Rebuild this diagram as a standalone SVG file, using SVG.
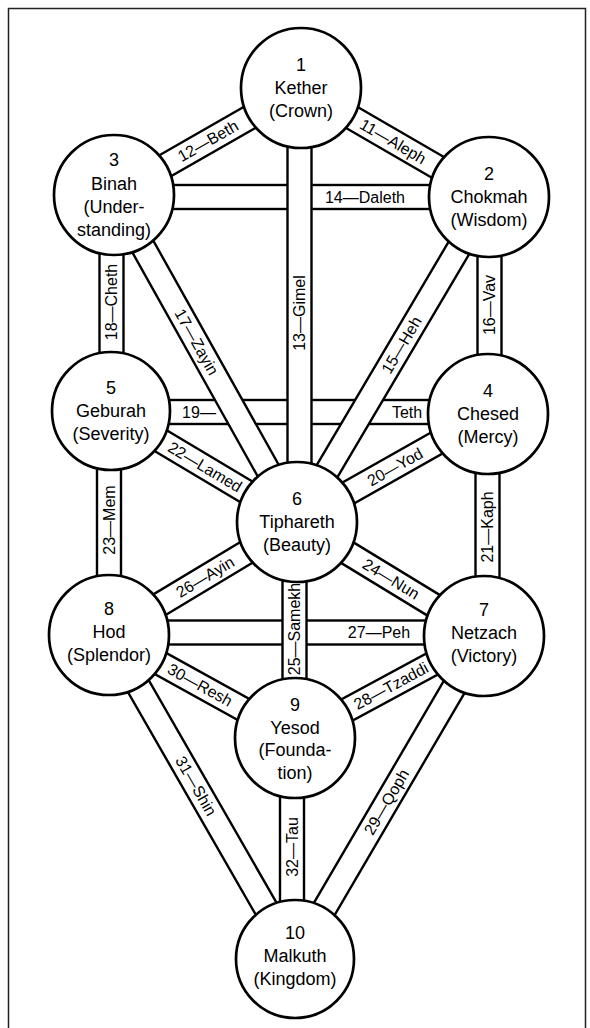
<svg xmlns="http://www.w3.org/2000/svg" width="590" height="1028" viewBox="0 0 590 1028">
<style>
.frame{fill:none;stroke:#222;stroke-width:1.5}
.band{fill:#fff;stroke:#000;stroke-width:2.4}
.node circle{fill:#fff;stroke:#000;stroke-width:2.7}
.nt{font-family:"Liberation Sans",Arial,sans-serif;font-size:18px;text-anchor:middle;fill:#000}
.pl{font-family:"Liberation Sans",Arial,sans-serif;font-size:16px;text-anchor:middle;dominant-baseline:central;fill:#000}
</style>
<rect width="590" height="1028" fill="#fff"/>
<path class="frame" d="M8.5,1028 V8.5 H585.5 V1028"/>
<g id="connectors">
  <g id="p14"><rect class="band" x="114" y="185" width="375" height="24"/><text class="pl" x="365" y="197">14—Daleth</text></g>
  <g id="p19"><rect class="band" x="111" y="400" width="377" height="24"/><text class="pl" x="199" y="412">19—</text><text class="pl" x="407" y="412">Teth</text></g>
  <g id="p27"><rect class="band" x="109" y="620.5" width="375" height="24"/><text class="pl" x="379" y="632.5">27—Peh</text></g>
  <g id="p13"><rect class="band" x="287.5" y="88" width="24" height="434"/><text class="pl" transform="translate(299.5,313) rotate(-90)">13—Gimel</text></g>
  <g id="p25"><rect class="band" x="282.5" y="522" width="24" height="216"/><text class="pl" transform="translate(294.5,629) rotate(-90)">25—Samekh</text></g>
  <g id="p11"><rect class="band" x="0" y="-12" width="217.3" height="24" transform="translate(301,88) rotate(30.1)"/><text class="pl" transform="translate(393,141.4) rotate(30.1)">11—Aleph</text></g>
  <g id="p12"><rect class="band" x="0" y="-12" width="215.4" height="24" transform="translate(301,88) rotate(150.2)"/><text class="pl" transform="translate(208,141) rotate(-29.8)">12—Beth</text></g>
  <g id="p15"><rect class="band" x="0" y="-12" width="377.5" height="24" transform="translate(489,197) rotate(120.57)"/><text class="pl" transform="translate(401.6,345) rotate(-59.43)">15—Heh</text></g>
  <g id="p16"><rect class="band" x="477.5" y="197" width="24" height="217"/><text class="pl" transform="translate(489.5,305) rotate(-90)">16—Vav</text></g>
  <g id="p17"><rect class="band" x="0" y="-12" width="374.7" height="24" transform="translate(114,195) rotate(60.77)"/><text class="pl" transform="translate(196.5,342) rotate(60.77)">17—Zayin</text></g>
  <g id="p18"><rect class="band" x="99.5" y="195" width="24" height="216"/><text class="pl" transform="translate(111.5,302) rotate(-90)">18—Cheth</text></g>
  <g id="p20"><rect class="band" x="0" y="-12" width="219.4" height="24" transform="translate(488,414) rotate(150.52)"/><text class="pl" transform="translate(395,467) rotate(-29.48)">20—Yod</text></g>
  <g id="p21"><rect class="band" x="475.5" y="414" width="24" height="222"/><text class="pl" transform="translate(487.5,527) rotate(-90)">21—Kaph</text></g>
  <g id="p22"><rect class="band" x="0" y="-12" width="216.6" height="24" transform="translate(111,411) rotate(30.83)"/><text class="pl" transform="translate(205,467) rotate(30.83)">22—Lamed</text></g>
  <g id="p23"><rect class="band" x="97" y="411" width="24" height="224"/><text class="pl" transform="translate(109,520) rotate(-90)">23—Mem</text></g>
  <g id="p24"><rect class="band" x="0" y="-12" width="219" height="24" transform="translate(297,522) rotate(31.37)"/><text class="pl" transform="translate(391,579) rotate(31.37)">24—Nun</text></g>
  <g id="p26"><rect class="band" x="0" y="-12" width="219.3" height="24" transform="translate(109,635) rotate(-31.01)"/><text class="pl" transform="translate(205,577) rotate(-31.01)">26—Ayin</text></g>
  <g id="p28"><rect class="band" x="0" y="-12" width="214.8" height="24" transform="translate(295,738) rotate(-28.36)"/><text class="pl" transform="translate(391,686) rotate(-28.36)">28—Tzaddi</text></g>
  <g id="p29"><rect class="band" x="0" y="-12" width="374.2" height="24" transform="translate(295,959) rotate(-59.67)"/><text class="pl" transform="translate(386.5,802) rotate(-59.67)">29—Qoph</text></g>
  <g id="p30"><rect class="band" x="0" y="-12" width="212.6" height="24" transform="translate(109,635) rotate(28.98)"/><text class="pl" transform="translate(200,685) rotate(28.98)">30—Resh</text></g>
  <g id="p31"><rect class="band" x="0" y="-12" width="373.6" height="24" transform="translate(109,635) rotate(60.14)"/><text class="pl" transform="translate(196,786) rotate(60.14)">31—Shin</text></g>
  <g id="p32"><rect class="band" x="280" y="738" width="24" height="221"/><text class="pl" transform="translate(292,847) rotate(-90)">32—Tau</text></g>
</g>
<g id="n1" class="node"><circle cx="301" cy="88" r="60"/><text class="nt" x="301" y="71">1</text><text class="nt" x="301" y="94">Kether</text><text class="nt" x="301" y="117">(Crown)</text></g>
<g id="n2" class="node"><circle cx="489" cy="197" r="60"/><text class="nt" x="489" y="180">2</text><text class="nt" x="489" y="203">Chokmah</text><text class="nt" x="489" y="226">(Wisdom)</text></g>
<g id="n3" class="node"><circle cx="114" cy="195" r="60"/><text class="nt" x="114" y="166">3</text><text class="nt" x="114" y="190">Binah</text><text class="nt" x="114" y="213">(Under-</text><text class="nt" x="114" y="236">standing)</text></g>
<g id="n4" class="node"><circle cx="488" cy="414" r="60"/><text class="nt" x="488" y="397">4</text><text class="nt" x="488" y="420">Chesed</text><text class="nt" x="488" y="443">(Mercy)</text></g>
<g id="n5" class="node"><circle cx="111" cy="411" r="59"/><text class="nt" x="111" y="394">5</text><text class="nt" x="111" y="417">Geburah</text><text class="nt" x="111" y="440">(Severity)</text></g>
<g id="n6" class="node"><circle cx="297" cy="522" r="60"/><text class="nt" x="297" y="505">6</text><text class="nt" x="297" y="528">Tiphareth</text><text class="nt" x="297" y="551">(Beauty)</text></g>
<g id="n7" class="node"><circle cx="484" cy="636" r="60"/><text class="nt" x="484" y="616">7</text><text class="nt" x="484" y="639">Netzach</text><text class="nt" x="484" y="662">(Victory)</text></g>
<g id="n8" class="node"><circle cx="109" cy="635" r="60"/><text class="nt" x="109" y="615">8</text><text class="nt" x="109" y="638">Hod</text><text class="nt" x="109" y="661">(Splendor)</text></g>
<g id="n9" class="node"><circle cx="295" cy="738" r="60"/><text class="nt" x="295" y="711">9</text><text class="nt" x="295" y="733.5">Yesod</text><text class="nt" x="295" y="756">(Founda-</text><text class="nt" x="295" y="778.5">tion)</text></g>
<g id="n10" class="node"><circle cx="295" cy="959" r="59"/><text class="nt" x="295" y="939">10</text><text class="nt" x="295" y="962">Malkuth</text><text class="nt" x="295" y="985">(Kingdom)</text></g>
</svg>
